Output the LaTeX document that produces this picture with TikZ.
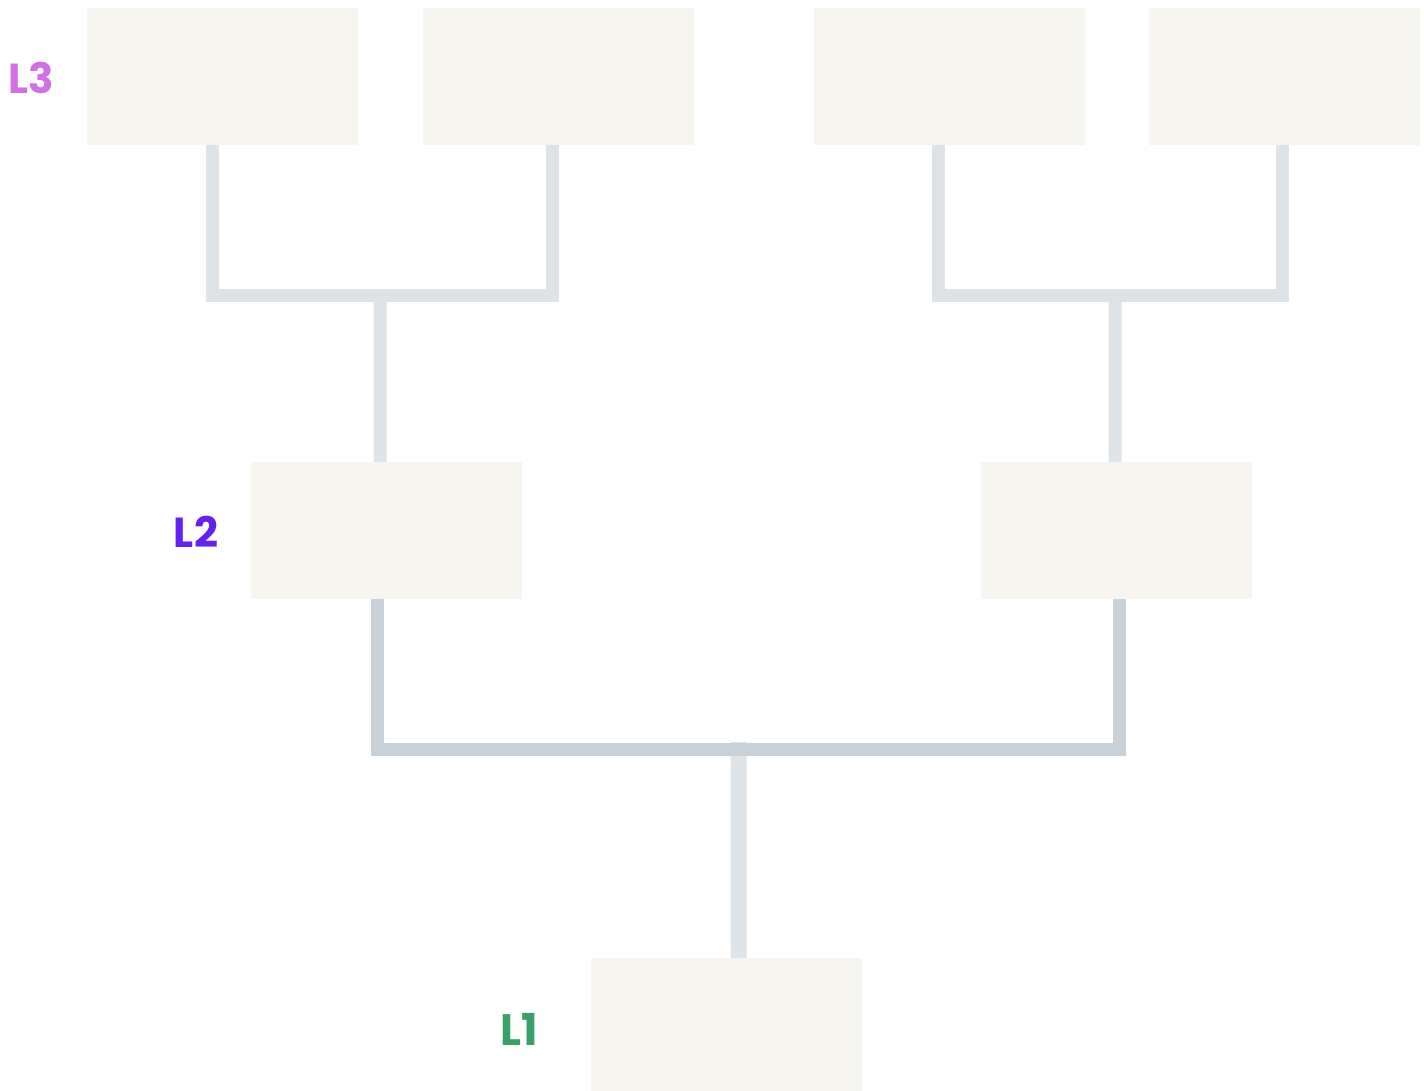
\documentclass[tikz,border=0pt]{standalone}
\usepackage{fontspec}
\setmainfont{Poppins}
\definecolor{boxfill}{HTML}{F6F5F0}
\definecolor{linelight}{HTML}{DEE3E7}
\definecolor{linedark}{HTML}{C8D0D8}
\definecolor{lthree}{HTML}{D070E2}
\definecolor{ltwo}{HTML}{6420EE}
\definecolor{lone}{HTML}{38A068}
\begin{document}
\begin{tikzpicture}[x=1pt,y=-1pt,
  box/.style={fill=boxfill,draw=none,minimum width=271pt,minimum height=137pt,inner sep=0pt,anchor=north west},
  conn/.style={line width=13pt,linelight,line cap=butt,line join=miter},
  conndark/.style={line width=13pt,linedark,line cap=butt,line join=miter},
  lvl/.style={font=\bfseries\fontsize{42}{42}\selectfont,inner sep=0pt}]
\useasboundingbox (0,0) rectangle (1424,1091);
\fill[white] (0,0) rectangle (1424,1091);
% boxes
\node[box] (a1) at (87,8) {};
\node[box] (a2) at (423,8) {};
\node[box] (a3) at (814,8) {};
\node[box] (a4) at (1149,8) {};
\node[box] (b1) at (251,462) {};
\node[box] (b2) at (981,462) {};
\node[box,minimum height=134pt] (c1) at (591,958) {};
% labels
\node[lvl,text=lthree] (t3) at (31,78) {L3};
\node[lvl,text=ltwo] (t2) at (196,532) {L2};
\node[lvl,text=lone,font=\bfseries\fontsize{44}{44}\selectfont] (t1) at (519,1029) {L1};
% junctions
\coordinate (j1) at (380,296);
\coordinate (j2) at (1115,296);
\coordinate (j3) at (738.5,749.5);
% connectors L3 -> L2
\draw[conn] (j1) -- ([xshift=-6.5pt]b1.north);
\draw[conn] ([xshift=-10.5pt]a1.south) |- (j1) -| ([xshift=-6.5pt]a2.south);
\draw[conn] (j2) -- ([xshift=-1.5pt]b2.north);
\draw[conn] ([xshift=-11.5pt]a3.south) |- (j2) -| ([xshift=-2.5pt]a4.south);
% connectors L2 -> L1
\draw[conn,line width=16pt] ([yshift=7.5pt]j3) -- ([xshift=12pt]c1.north);
\draw[conndark] ([xshift=-9.5pt]b1.south) |- (j3) -| ([xshift=2.5pt]b2.south);
\end{tikzpicture}
\end{document}
